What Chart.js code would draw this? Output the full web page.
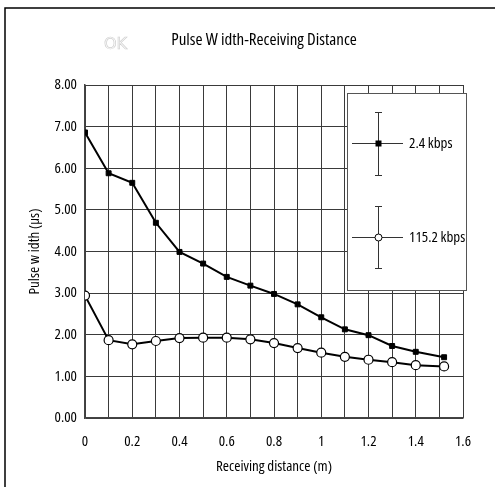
<!DOCTYPE html>
<html>
<head>
<meta charset="utf-8">
<script src="https://cdn.jsdelivr.net/npm/chart.js@4/dist/chart.umd.min.js"></script>
<style>
  html, body { margin: 0; padding: 0; background: #fff; }
  #wrap { width: 495px; height: 487px; }
</style>
</head>
<body>
<div id="wrap"><canvas id="c" width="495" height="487"></canvas></div>
<script>
const distances = [0, 0.1, 0.2, 0.3, 0.4, 0.5, 0.6, 0.7, 0.8, 0.9, 1.0, 1.1, 1.2, 1.3, 1.4, 1.52];
const width24 = [6.86, 5.88, 5.65, 4.69, 3.99, 3.71, 3.39, 3.18, 2.98, 2.73, 2.42, 2.13, 1.99, 1.73, 1.59, 1.46];
const width1152 = [2.94, 1.87, 1.77, 1.85, 1.92, 1.93, 1.93, 1.89, 1.80, 1.68, 1.57, 1.47, 1.40, 1.34, 1.27, 1.24];
const seriesNames = ['2.4 kbps', '115.2 kbps'];
const yTicks = [0, 1, 2, 3, 4, 5, 6, 7, 8];

// narrow look of the original: Open Sans squeezed with font-stretch
const FAMILY = '"Open Sans", sans-serif';
const narrow = (size) => ({ family: FAMILY, size: size, weight: 'condensed' });
const narrowCss = (size) => 'condensed ' + size + 'px ' + FAMILY;

const pts = (ys) => distances.map((d, i) => ({ x: d, y: ys[i] }));

// frame, title, faint "OK" mark and the error-bar style legend box
const extras = {
  id: 'extras',
  afterDraw(chart) {
    const ctx = chart.ctx;
    ctx.save();
    ctx.strokeStyle = '#000';
    ctx.lineWidth = 1.5;
    ctx.beginPath();
    ctx.moveTo(5, 487);
    ctx.lineTo(5, 8);
    ctx.lineTo(495, 8);
    ctx.stroke();

    ctx.fillStyle = '#000';
    ctx.font = narrowCss(17);
    ctx.textAlign = 'center';
    ctx.textBaseline = 'middle';
    ctx.fillText('Pulse W idth-Receiving Distance', 264, 40);

    ctx.font = '16px "DejaVu Sans", sans-serif';
    ctx.strokeStyle = '#d0d0d0';
    ctx.lineWidth = 0.7;
    ctx.textAlign = 'left';
    ctx.strokeText('OK', 104, 45);

    // legend box
    ctx.fillStyle = '#fff';
    ctx.fillRect(347, 93, 120, 198);
    ctx.strokeStyle = '#555';
    ctx.lineWidth = 1;
    ctx.strokeRect(347.5, 93.5, 119, 197);

    const items = [
      { cy: 143, top: 112, bot: 175, fill: '#000', shape: 'rect' },
      { cy: 237, top: 206, bot: 268, fill: '#fff', shape: 'circle' }
    ];
    items.forEach((it, i) => {
      const cx = 378;
      ctx.strokeStyle = '#333';
      ctx.lineWidth = 1;
      ctx.beginPath();
      ctx.moveTo(352, it.cy + 0.5); ctx.lineTo(403, it.cy + 0.5);
      ctx.moveTo(cx + 0.5, it.top); ctx.lineTo(cx + 0.5, it.bot);
      ctx.moveTo(cx - 3, it.top + 0.5); ctx.lineTo(cx + 4, it.top + 0.5);
      ctx.moveTo(cx - 3, it.bot + 0.5); ctx.lineTo(cx + 4, it.bot + 0.5);
      ctx.stroke();
      ctx.fillStyle = it.fill;
      ctx.strokeStyle = '#000';
      if (it.shape === 'rect') {
        ctx.fillRect(cx - 2.5, it.cy - 2.5, 6, 6);
      } else {
        ctx.beginPath();
        ctx.arc(cx + 0.5, it.cy + 0.5, 3.5, 0, Math.PI * 2);
        ctx.fill();
        ctx.stroke();
      }
      ctx.fillStyle = '#000';
      ctx.font = narrowCss(15);
      ctx.textAlign = 'left';
      ctx.textBaseline = 'middle';
      ctx.fillText(seriesNames[i], 409, it.cy + 1);
    });
    ctx.restore();
  }
};

new Chart(document.getElementById('c'), {
  type: 'line',
  data: {
    datasets: [
      {
        label: seriesNames[0],
        data: pts(width24),
        borderColor: '#000',
        backgroundColor: '#000',
        borderWidth: 2,
        pointStyle: 'rect',
        pointRadius: 3.5,
        pointBorderWidth: 1,
        pointBorderColor: '#000',
        pointBackgroundColor: '#000',
        tension: 0
      },
      {
        label: seriesNames[1],
        data: pts(width1152),
        borderColor: '#000',
        backgroundColor: '#fff',
        borderWidth: 2,
        pointStyle: 'circle',
        pointRadius: 4.5,
        pointBorderWidth: 1.2,
        pointBorderColor: '#000',
        pointBackgroundColor: '#fff',
        tension: 0
      }
    ]
  },
  options: {
    responsive: false,
    animation: false,
    layout: { padding: { left: 0, right: 32, top: 85, bottom: 0 } },
    plugins: {
      legend: { display: false },
      tooltip: { enabled: false },
      title: { display: false }
    },
    scales: {
      x: {
        type: 'linear',
        min: 0,
        max: 1.6,
        afterFit(scale) { scale.height = 69; },
        afterBuildTicks(scale) {
          scale.ticks = [];
          for (let i = 0; i <= 16; i++) scale.ticks.push({ value: i / 10 });
        },
        ticks: {
          color: '#000',
          padding: 15,
          maxRotation: 0,
          autoSkip: false,
          font: narrow(15),
          callback: (v, i) => (i % 2 === 0 ? String(Number((i / 10).toFixed(1))) : '')
        },
        grid: { color: '#3a3a3a', lineWidth: 1, drawTicks: false },
        border: { color: '#444', width: 1.5 },
        title: {
          display: true,
          text: 'Receiving distance (m)',
          color: '#000',
          font: narrow(15),
          padding: { top: 0, bottom: 11 }
        }
      },
      y: {
        min: 0,
        max: 8,
        afterFit(scale) { scale.width = 85; },
        afterBuildTicks(scale) {
          scale.ticks = yTicks.map(v => ({ value: v }));
        },
        ticks: {
          color: '#000',
          padding: 8,
          font: narrow(15),
          callback: (v) => v.toFixed(2)
        },
        grid: { color: '#3a3a3a', lineWidth: 1, drawTicks: false },
        border: { color: '#444', width: 1.5 },
        title: {
          display: true,
          text: 'Pulse w idth (μs)',
          color: '#000',
          font: narrow(15),
          padding: { top: 26, bottom: 0 }
        }
      }
    }
  },
  plugins: [extras]
});
</script>
</body>
</html>
